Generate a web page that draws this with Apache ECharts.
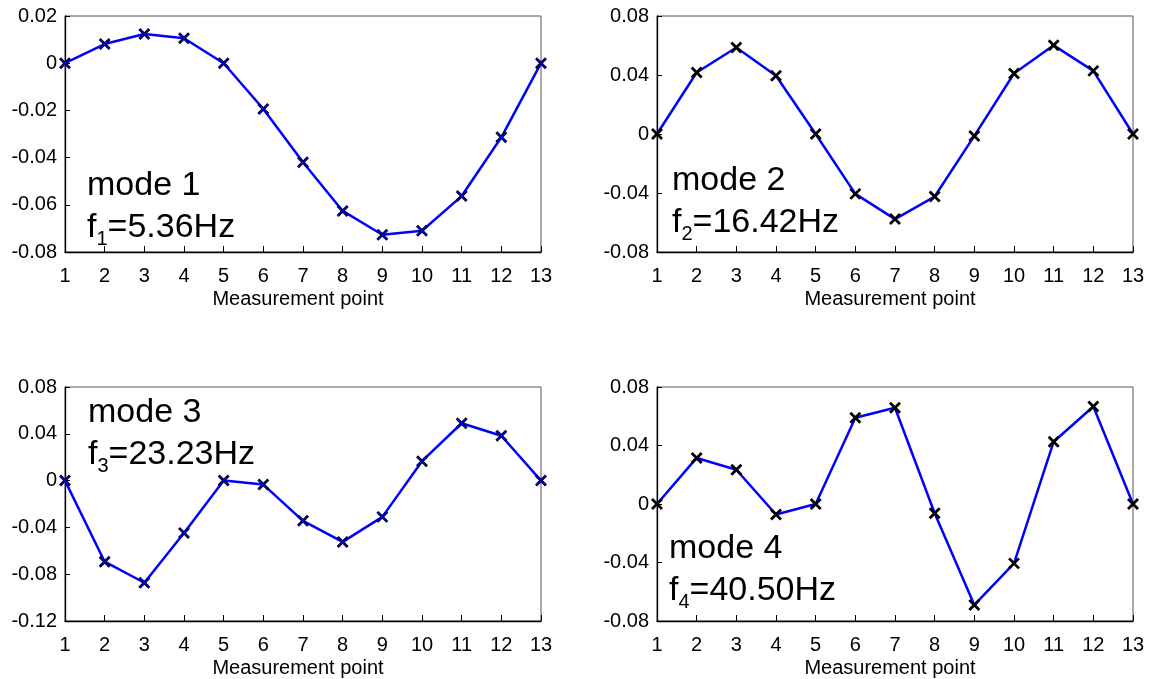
<!DOCTYPE html>
<html lang="en">
<head>
    <meta charset="UTF-8">
    <title>mode shapes</title>
    <script src="https://cdn.jsdelivr.net/npm/echarts@6/dist/echarts.min.js"></script>
    <style>
        html, body { margin: 0; padding: 0; background: #fff; }
    </style>
</head>
<body>
<div id="main" style="width: 1152px;height: 679px;"></div>
<script>
var points = ['1', '2', '3', '4', '5', '6', '7', '8', '9', '10', '11', '12', '13'];

// mode shape values
var mode1 = [0, 0.0081, 0.0124, 0.0106, 0, -0.0194, -0.0420, -0.0626, -0.0727, -0.0710, -0.0563, -0.0314, 0];
var mode2 = [0, 0.0417, 0.0586, 0.0395, 0, -0.0406, -0.0577, -0.0424, -0.0013, 0.0410, 0.0601, 0.0428, 0];
var mode3 = [0, -0.0693, -0.0873, -0.0448, 0, -0.0034, -0.0344, -0.0524, -0.0310, 0.0166, 0.0490, 0.0383, 0];
var mode4 = [0, 0.0315, 0.0234, -0.0072, 0, 0.0590, 0.0658, -0.0063, -0.0690, -0.0406, 0.0426, 0.0667, 0];

var freqs = ['5.36', '16.42', '23.23', '40.50'];
var yMin = [-0.08, -0.08, -0.12, -0.08];
var yMax = [0.02, 0.08, 0.08, 0.08];
var yStep = [0.02, 0.04, 0.04, 0.04];

var FONT = '"Liberation Sans", Arial, sans-serif';
var cross = 'path://M0,0L10,10M0,10L10,0';

var grids = [
    {left: 65, top: 16, width: 476, height: 236},
    {left: 657, top: 16, width: 476, height: 236},
    {left: 65, top: 387, width: 476, height: 236},
    {left: 657, top: 387, width: 476, height: 236}
];
var textPos = [[87, 169], [672, 164], [88, 396], [669, 532]];

var xAxes = [], yAxes = [], series = [], graphics = [];
var allData = [mode1, mode2, mode3, mode4];

grids.forEach(function (g, i) {
    g.show = true;
    g.borderColor = '#555';
    g.borderWidth = 1;
    g.containLabel = false;

    xAxes.push({
        type: 'category',
        gridIndex: i,
        data: points,
        boundaryGap: false,
        axisLine: {onZero: false, lineStyle: {color: '#000', width: 1.3}},
        axisTick: {inside: true, length: 6, interval: 0, lineStyle: {color: '#000'}},
        axisLabel: {interval: 0, margin: 14, fontSize: 20, color: '#000', fontFamily: FONT},
        splitLine: {show: false},
        name: 'Measurement point',
        nameLocation: 'middle',
        nameGap: 37,
        nameTextStyle: {fontSize: 20, color: '#000', fontFamily: FONT, padding: [0, 10, 0, 0]}
    });
    yAxes.push({
        type: 'value',
        gridIndex: i,
        min: yMin[i],
        max: yMax[i],
        interval: yStep[i],
        axisLine: {show: true, lineStyle: {color: '#000', width: 1.3}},
        axisTick: {show: true, inside: true, length: 5, lineStyle: {color: '#000'}},
        axisLabel: {margin: 8, fontSize: 20, color: '#000', fontFamily: FONT},
        splitLine: {show: false}
    });
    series.push({
        type: 'line',
        xAxisIndex: i,
        yAxisIndex: i,
        data: allData[i],
        lineStyle: {color: '#0000ff', width: 2.5},
        symbol: cross,
        symbolSize: 10,
        itemStyle: {color: '#000', borderColor: '#000', borderWidth: 2.8},
        emphasis: {disabled: true},
        animation: false,
        z: 3
    });
    // mode 1 and 3 show a thin blue cross on top of the black one
    if (i === 0 || i === 2) {
        series.push({
            type: 'line',
            xAxisIndex: i,
            yAxisIndex: i,
            data: allData[i],
            lineStyle: {width: 0, opacity: 0},
            symbol: cross,
            symbolSize: 9,
            itemStyle: {color: '#0000ff', borderColor: '#0000ff', borderWidth: 1.2},
            emphasis: {disabled: true},
            animation: false,
            z: 4
        });
    }
    graphics.push({
        type: 'text',
        left: textPos[i][0],
        top: textPos[i][1],
        z: 10,
        style: {
            text: '{a|mode ' + (i + 1) + '}\n{a|f}{s|' + (i + 1) + '}{a|=' + freqs[i] + 'Hz}',
            fill: '#000',
            rich: {
                a: {fontSize: 34, lineHeight: 42, fontFamily: FONT, fill: '#000'},
                s: {fontSize: 20, lineHeight: 12, verticalAlign: 'bottom', fontFamily: FONT, fill: '#000'}
            }
        }
    });
});

var myChart = echarts.init(document.getElementById('main'));
myChart.setOption({
    animation: false,
    backgroundColor: '#fff',
    grid: grids,
    xAxis: xAxes,
    yAxis: yAxes,
    series: series,
    graphic: graphics
});
</script>
</body>
</html>
